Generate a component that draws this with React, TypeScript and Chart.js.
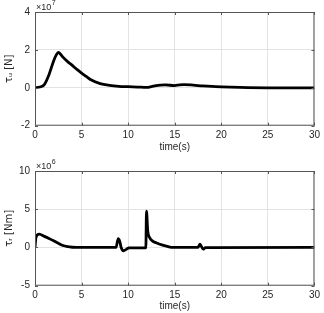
import React, { useEffect, useRef } from "react";
import { Chart, registerables } from "chart.js";

Chart.register(...registerables);

// Surge force τu, in units of 1e7 N
const timeU = [0, 0.5, 1, 1.5, 2, 2.3, 2.5, 2.7, 3, 3.5, 4, 4.5, 5, 5.5, 6, 7, 8, 9, 10, 11, 12, 12.5, 13, 14, 15, 15.5, 16, 17, 18, 19, 20, 22, 25, 30];
const tauU = [0, 0.04, 0.17, 0.69, 1.42, 1.75, 1.87, 1.8, 1.62, 1.38, 1.18, 0.97, 0.78, 0.6, 0.42, 0.22, 0.13, 0.08, 0.06, 0.04, 0.02, 0.06, 0.12, 0.15, 0.12, 0.16, 0.17, 0.14, 0.1, 0.07, 0.05, 0.02, 0, 0];

// Yaw moment τr, in units of 1e6 Nm
const timeR = [0, 0.1, 0.45, 1, 1.5, 2, 2.5, 3, 3.5, 4, 5, 8.7, 8.93, 9.1, 9.25, 9.5, 9.8, 10.1, 11.9, 11.97, 12.1, 12.3, 12.6, 13, 13.7, 14.3, 14.8, 17.5, 17.7, 17.85, 18.05, 18.3, 30];
const tauR = [0, 1.3, 1.74, 1.45, 1.17, 0.87, 0.55, 0.25, 0.1, 0.03, 0, 0, 1.15, 0.8, 0, -0.43, -0.25, -0.05, -0.05, 4.75, 2.2, 1.3, 0.87, 0.62, 0.3, 0.1, 0, 0, 0.43, 0.15, -0.22, -0.02, 0];

const xTicks = [0, 5, 10, 15, 20, 25, 30];
const yTicksU = [-2, 0, 2, 4];
const yTicksR = [-5, 0, 5, 10];

const FONT = "'Liberation Sans', Arial, sans-serif";
const TEXT = "#262626";
const GRID = "#e3e3e3";
const BOX = "#555555";

type PanelSpec = {
  times: number[];
  values: number[];
  yTicks: number[];
  yTitle: string;
  exponent: string;
  topPad: number;
  xAxisHeight: number;
  titleBottom: number;
};

// Draws the full axes box, inward tick marks and the ×10^n multiplier
const boxPlugin = {
  id: "matlabBox",
  afterDraw(chart: any, _args: any, opts: any) {
    const { ctx, chartArea: a, scales } = chart;
    ctx.save();
    ctx.strokeStyle = BOX;
    ctx.lineWidth = 1;
    ctx.strokeRect(a.left + 0.5, a.top + 0.5, a.right - a.left - 1, a.bottom - a.top - 1);
    ctx.beginPath();
    for (const t of xTicks) {
      const px = Math.round(scales.x.getPixelForValue(t)) + 0.5;
      ctx.moveTo(px, a.bottom);
      ctx.lineTo(px, a.bottom - 3);
      ctx.moveTo(px, a.top);
      ctx.lineTo(px, a.top + 3);
    }
    for (const t of opts.yTicks) {
      const py = Math.round(scales.y.getPixelForValue(t)) + 0.5;
      ctx.moveTo(a.left, py);
      ctx.lineTo(a.left + 3, py);
      ctx.moveTo(a.right, py);
      ctx.lineTo(a.right - 3, py);
    }
    ctx.stroke();
    // multiplier
    ctx.fillStyle = TEXT;
    ctx.textBaseline = "alphabetic";
    ctx.textAlign = "left";
    ctx.font = `9px ${FONT}`;
    const base = "×10";
    const x0 = a.left + 1;
    const y0 = a.top - 2;
    ctx.fillText(base, x0, y0);
    const w = ctx.measureText(base).width;
    ctx.font = `7px ${FONT}`;
    ctx.fillText(opts.exponent, x0 + w + 0.5, y0 - 5);
    ctx.restore();
  },
};

function Panel({ spec, top, height }: { spec: PanelSpec; top: number; height: number }) {
  const ref = useRef<HTMLCanvasElement | null>(null);
  useEffect(() => {
    if (!ref.current) return;
    const points = spec.times.map((t, i) => ({ x: t, y: spec.values[i] }));
    const chart = new Chart(ref.current, {
      type: "line",
      data: {
        datasets: [
          {
            data: points,
            borderColor: "#000000",
            borderWidth: 2.8,
            pointRadius: 0,
            fill: false,
            cubicInterpolationMode: "monotone",
          },
        ],
      },
      options: {
        animation: false,
        responsive: false,
        maintainAspectRatio: false,
        layout: { padding: { left: 0, right: 7.5, top: spec.topPad, bottom: 0 } },
        plugins: {
          legend: { display: false },
          tooltip: { enabled: false },
          matlabBox: { yTicks: spec.yTicks, exponent: spec.exponent },
        } as any,
        scales: {
          x: {
            type: "linear",
            min: 0,
            max: 30,
            afterBuildTicks: (s: any) => {
              s.ticks = xTicks.map((v) => ({ value: v }));
            },
            afterFit: (s: any) => {
              s.height = spec.xAxisHeight;
            },
            grid: { color: GRID, drawTicks: false, lineWidth: 1 },
            border: { display: false },
            ticks: { color: TEXT, font: { family: FONT, size: 10 }, padding: 4, maxRotation: 0 },
            title: {
              display: true,
              text: "time(s)",
              color: TEXT,
              font: { family: FONT, size: 10 },
              padding: { top: 0, bottom: spec.titleBottom },
            },
          },
          y: {
            type: "linear",
            min: spec.yTicks[0],
            max: spec.yTicks[spec.yTicks.length - 1],
            afterBuildTicks: (s: any) => {
              s.ticks = spec.yTicks.map((v) => ({ value: v }));
            },
            afterFit: (s: any) => {
              s.width = 35;
            },
            grid: { color: GRID, drawTicks: false, lineWidth: 1 },
            border: { display: false },
            ticks: { color: TEXT, font: { family: FONT, size: 10 }, padding: 5 },
            title: {
              display: true,
              text: spec.yTitle,
              color: TEXT,
              font: { family: "'DejaVu Sans', sans-serif", size: 10 },
              padding: { top: 3, bottom: 0 },
            },
          },
        },
      },
      plugins: [boxPlugin],
    } as any);
    return () => chart.destroy();
  }, [spec]);
  return (
    <canvas
      ref={ref}
      width={324}
      height={height}
      style={{ position: "absolute", left: 0, top, width: 324, height }}
    />
  );
}

const topSpec: PanelSpec = {
  times: timeU,
  values: tauU,
  yTicks: yTicksU,
  yTitle: "τᵤ [N]",
  exponent: "7",
  topPad: 12,
  xAxisHeight: 29.3,
  titleBottom: 1.3,
};

const bottomSpec: PanelSpec = {
  times: timeR,
  values: tauR,
  yTicks: yTicksR,
  yTitle: "τᵣ [Nm]",
  exponent: "6",
  topPad: 16,
  xAxisHeight: 27.3,
  titleBottom: 1,
};

export default function App() {
  return (
    <div style={{ position: "fixed", left: 0, top: 0, width: 324, height: 313, background: "#ffffff" }}>
      <Panel spec={topSpec} top={0} height={155} />
      <Panel spec={bottomSpec} top={155} height={158} />
    </div>
  );
}
